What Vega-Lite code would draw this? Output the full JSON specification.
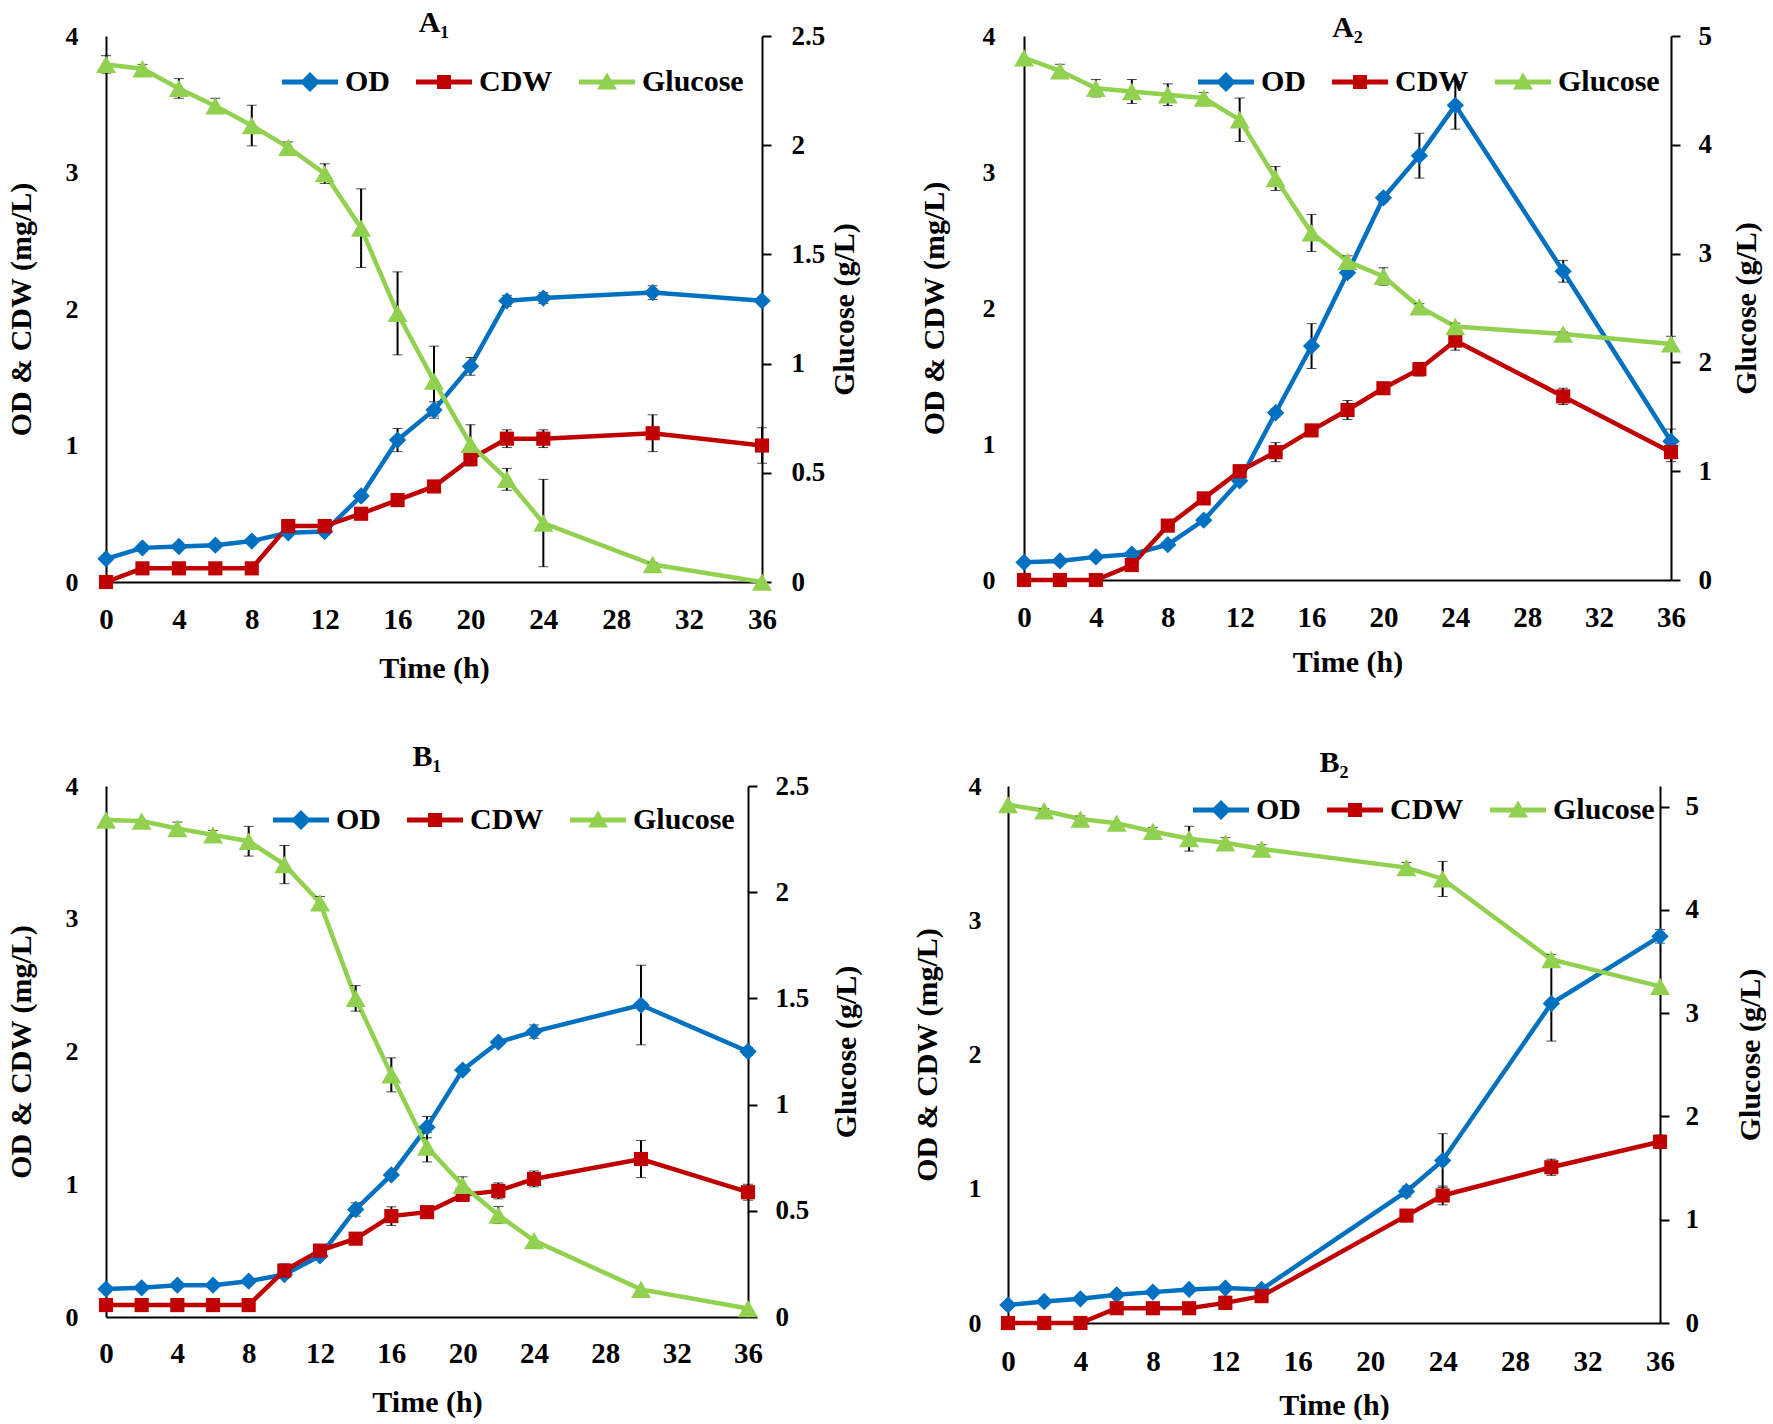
{
  "$schema": "https://vega.github.io/schema/vega-lite/v6.json",
  "padding": {"left": 6, "top": 8, "right": 0, "bottom": 0},
  "config": {
    "view": {"stroke": null},
    "font": "Liberation Serif",
    "axis": {"domainColor": "black", "domainWidth": 2, "grid": false, "labelFont": "Liberation Serif", "titleFont": "Liberation Serif", "labelFontWeight": "bold", "titleFontWeight": "bold", "labelColor": "black", "titleColor": "black", "tickColor": "black", "tickWidth": 2},
    "title": {"font": "Liberation Serif", "fontSize": 30, "fontWeight": "bold", "color": "black", "baseline": "alphabetic"},
    "legend": {"labelFont": "Liberation Serif", "labelFontSize": 30, "labelFontWeight": "bold", "labelColor": "black", "direction": "horizontal", "orient": "none", "labelOffset": 20, "columnPadding": 26, "symbolStrokeWidth": 0, "symbolSize": 400}
  },
  "datasets": {
    "A1": [
      {"t":0,"s":"OD","v":0.17,"e":0},{"t":2,"s":"OD","v":0.25,"e":0},{"t":4,"s":"OD","v":0.26,"e":0},{"t":6,"s":"OD","v":0.27,"e":0},{"t":8,"s":"OD","v":0.30,"e":0},{"t":10,"s":"OD","v":0.36,"e":0},{"t":12,"s":"OD","v":0.37,"e":0},{"t":14,"s":"OD","v":0.63,"e":0.02},{"t":16,"s":"OD","v":1.04,"e":0.085},{"t":18,"s":"OD","v":1.26,"e":0.06},{"t":20,"s":"OD","v":1.58,"e":0.065},{"t":22,"s":"OD","v":2.06,"e":0.04},{"t":24,"s":"OD","v":2.08,"e":0.04},{"t":30,"s":"OD","v":2.12,"e":0.05},{"t":36,"s":"OD","v":2.06,"e":0.02},
      {"t":0,"s":"CDW","v":0,"e":0},{"t":2,"s":"CDW","v":0.10,"e":0},{"t":4,"s":"CDW","v":0.10,"e":0},{"t":6,"s":"CDW","v":0.10,"e":0},{"t":8,"s":"CDW","v":0.10,"e":0},{"t":10,"s":"CDW","v":0.41,"e":0},{"t":12,"s":"CDW","v":0.41,"e":0},{"t":14,"s":"CDW","v":0.50,"e":0},{"t":16,"s":"CDW","v":0.60,"e":0},{"t":18,"s":"CDW","v":0.70,"e":0},{"t":20,"s":"CDW","v":0.90,"e":0.05},{"t":22,"s":"CDW","v":1.05,"e":0.065},{"t":24,"s":"CDW","v":1.05,"e":0.065},{"t":30,"s":"CDW","v":1.09,"e":0.135},{"t":36,"s":"CDW","v":1.00,"e":0.13},
      {"t":0,"s":"Glucose","v":2.37,"e":0.04},{"t":2,"s":"Glucose","v":2.35,"e":0.02},{"t":4,"s":"Glucose","v":2.26,"e":0.045},{"t":6,"s":"Glucose","v":2.18,"e":0.035},{"t":8,"s":"Glucose","v":2.09,"e":0.093},{"t":10,"s":"Glucose","v":1.99,"e":0.025},{"t":12,"s":"Glucose","v":1.87,"e":0.045},{"t":14,"s":"Glucose","v":1.62,"e":0.18},{"t":16,"s":"Glucose","v":1.23,"e":0.19},{"t":18,"s":"Glucose","v":0.92,"e":0.16},{"t":20,"s":"Glucose","v":0.63,"e":0.09},{"t":22,"s":"Glucose","v":0.47,"e":0.05},{"t":24,"s":"Glucose","v":0.27,"e":0.2},{"t":30,"s":"Glucose","v":0.08,"e":0.01},{"t":36,"s":"Glucose","v":0.0,"e":0}
    ],
    "A2": [
      {"t":0,"s":"OD","v":0.13,"e":0},{"t":2,"s":"OD","v":0.14,"e":0},{"t":4,"s":"OD","v":0.17,"e":0},{"t":6,"s":"OD","v":0.19,"e":0},{"t":8,"s":"OD","v":0.26,"e":0},{"t":10,"s":"OD","v":0.44,"e":0},{"t":12,"s":"OD","v":0.73,"e":0},{"t":14,"s":"OD","v":1.23,"e":0.03},{"t":16,"s":"OD","v":1.72,"e":0.165},{"t":18,"s":"OD","v":2.26,"e":0.03},{"t":20,"s":"OD","v":2.81,"e":0.03},{"t":22,"s":"OD","v":3.12,"e":0.165},{"t":24,"s":"OD","v":3.49,"e":0.175},{"t":30,"s":"OD","v":2.27,"e":0.08},{"t":36,"s":"OD","v":1.02,"e":0.09},
      {"t":0,"s":"CDW","v":0,"e":0},{"t":2,"s":"CDW","v":0,"e":0},{"t":4,"s":"CDW","v":0,"e":0},{"t":6,"s":"CDW","v":0.11,"e":0},{"t":8,"s":"CDW","v":0.40,"e":0},{"t":10,"s":"CDW","v":0.60,"e":0},{"t":12,"s":"CDW","v":0.80,"e":0},{"t":14,"s":"CDW","v":0.94,"e":0.07},{"t":16,"s":"CDW","v":1.10,"e":0.03},{"t":18,"s":"CDW","v":1.25,"e":0.07},{"t":20,"s":"CDW","v":1.41,"e":0.03},{"t":22,"s":"CDW","v":1.55,"e":0.05},{"t":24,"s":"CDW","v":1.76,"e":0.07},{"t":30,"s":"CDW","v":1.35,"e":0.06},{"t":36,"s":"CDW","v":0.94,"e":0.07},
      {"t":0,"s":"Glucose","v":4.80,"e":0},{"t":2,"s":"Glucose","v":4.68,"e":0.06},{"t":4,"s":"Glucose","v":4.52,"e":0.08},{"t":6,"s":"Glucose","v":4.49,"e":0.11},{"t":8,"s":"Glucose","v":4.46,"e":0.10},{"t":10,"s":"Glucose","v":4.43,"e":0.05},{"t":12,"s":"Glucose","v":4.23,"e":0.2},{"t":14,"s":"Glucose","v":3.69,"e":0.11},{"t":16,"s":"Glucose","v":3.19,"e":0.17},{"t":18,"s":"Glucose","v":2.93,"e":0.05},{"t":20,"s":"Glucose","v":2.79,"e":0.08},{"t":22,"s":"Glucose","v":2.51,"e":0.03},{"t":24,"s":"Glucose","v":2.33,"e":0.03},{"t":30,"s":"Glucose","v":2.26,"e":0.02},{"t":36,"s":"Glucose","v":2.17,"e":0.07}
    ],
    "B1": [
      {"t":0,"s":"OD","v":0.21,"e":0},{"t":2,"s":"OD","v":0.22,"e":0},{"t":4,"s":"OD","v":0.24,"e":0},{"t":6,"s":"OD","v":0.24,"e":0},{"t":8,"s":"OD","v":0.27,"e":0},{"t":10,"s":"OD","v":0.32,"e":0.03},{"t":12,"s":"OD","v":0.46,"e":0},{"t":14,"s":"OD","v":0.81,"e":0.05},{"t":16,"s":"OD","v":1.07,"e":0},{"t":18,"s":"OD","v":1.43,"e":0.08},{"t":20,"s":"OD","v":1.86,"e":0},{"t":22,"s":"OD","v":2.07,"e":0},{"t":24,"s":"OD","v":2.15,"e":0.05},{"t":30,"s":"OD","v":2.35,"e":0.3},{"t":36,"s":"OD","v":2.00,"e":0.03},
      {"t":0,"s":"CDW","v":0.09,"e":0},{"t":2,"s":"CDW","v":0.09,"e":0},{"t":4,"s":"CDW","v":0.09,"e":0},{"t":6,"s":"CDW","v":0.09,"e":0},{"t":8,"s":"CDW","v":0.09,"e":0},{"t":10,"s":"CDW","v":0.35,"e":0.05},{"t":12,"s":"CDW","v":0.50,"e":0},{"t":14,"s":"CDW","v":0.59,"e":0},{"t":16,"s":"CDW","v":0.76,"e":0.07},{"t":18,"s":"CDW","v":0.79,"e":0},{"t":20,"s":"CDW","v":0.92,"e":0.05},{"t":22,"s":"CDW","v":0.95,"e":0.06},{"t":24,"s":"CDW","v":1.04,"e":0.06},{"t":30,"s":"CDW","v":1.19,"e":0.14},{"t":36,"s":"CDW","v":0.94,"e":0.06},
      {"t":0,"s":"Glucose","v":2.34,"e":0},{"t":2,"s":"Glucose","v":2.335,"e":0},{"t":4,"s":"Glucose","v":2.30,"e":0.03},{"t":6,"s":"Glucose","v":2.27,"e":0.02},{"t":8,"s":"Glucose","v":2.24,"e":0.07},{"t":10,"s":"Glucose","v":2.13,"e":0.09},{"t":12,"s":"Glucose","v":1.95,"e":0.03},{"t":14,"s":"Glucose","v":1.50,"e":0.06},{"t":16,"s":"Glucose","v":1.14,"e":0.08},{"t":18,"s":"Glucose","v":0.80,"e":0.07},{"t":20,"s":"Glucose","v":0.62,"e":0.04},{"t":22,"s":"Glucose","v":0.48,"e":0.04},{"t":24,"s":"Glucose","v":0.36,"e":0},{"t":30,"s":"Glucose","v":0.13,"e":0},{"t":36,"s":"Glucose","v":0.04,"e":0}
    ],
    "B2": [
      {"t":0,"s":"OD","v":0.135,"e":0},{"t":2,"s":"OD","v":0.16,"e":0},{"t":4,"s":"OD","v":0.18,"e":0},{"t":6,"s":"OD","v":0.21,"e":0},{"t":8,"s":"OD","v":0.23,"e":0},{"t":10,"s":"OD","v":0.25,"e":0},{"t":12,"s":"OD","v":0.26,"e":0},{"t":14,"s":"OD","v":0.25,"e":0},{"t":22,"s":"OD","v":0.98,"e":0.04},{"t":24,"s":"OD","v":1.21,"e":0.2},{"t":30,"s":"OD","v":2.38,"e":0.28},{"t":36,"s":"OD","v":2.88,"e":0.05},
      {"t":0,"s":"CDW","v":0,"e":0},{"t":2,"s":"CDW","v":0,"e":0},{"t":4,"s":"CDW","v":0,"e":0},{"t":6,"s":"CDW","v":0.11,"e":0},{"t":8,"s":"CDW","v":0.11,"e":0},{"t":10,"s":"CDW","v":0.11,"e":0},{"t":12,"s":"CDW","v":0.15,"e":0.05},{"t":14,"s":"CDW","v":0.20,"e":0},{"t":22,"s":"CDW","v":0.80,"e":0},{"t":24,"s":"CDW","v":0.95,"e":0.07},{"t":30,"s":"CDW","v":1.16,"e":0.06},{"t":36,"s":"CDW","v":1.35,"e":0.05},
      {"t":0,"s":"Glucose","v":5.02,"e":0},{"t":2,"s":"Glucose","v":4.96,"e":0.02},{"t":4,"s":"Glucose","v":4.88,"e":0.03},{"t":6,"s":"Glucose","v":4.84,"e":0},{"t":8,"s":"Glucose","v":4.76,"e":0.04},{"t":10,"s":"Glucose","v":4.69,"e":0.12},{"t":12,"s":"Glucose","v":4.65,"e":0.05},{"t":14,"s":"Glucose","v":4.59,"e":0.04},{"t":22,"s":"Glucose","v":4.41,"e":0.05},{"t":24,"s":"Glucose","v":4.30,"e":0.17},{"t":30,"s":"Glucose","v":3.52,"e":0.05},{"t":36,"s":"Glucose","v":3.26,"e":0}
    ],
    "legendrows": [
      {"t":0,"s":"OD","v":-1},{"t":0,"s":"CDW","v":-1},{"t":0,"s":"Glucose","v":-1}
    ]
  },
  "resolve": {"scale": {"color": "independent", "shape": "independent"}, "legend": {"color": "independent", "shape": "independent"}},
  "spacing": 59,
  "vconcat": [
    {
      "hconcat": [
        {
          "title": {"text": "A₁", "offset": -16},
          "width": 656, "height": 546,
          "data": {"name": "A1"},
          "layer": [
            {"transform": [{"filter": "datum.s == 'OD'"}], "mark": {"type": "line", "color": "#0070C0", "strokeWidth": 4.5},
             "encoding": {"x": {"field": "t", "type": "quantitative", "scale": {"domain": [0, 36], "nice": false}, "axis": {"values": [0,4,8,12,16,20,24,28,32,36], "title": "Time (h)", "ticks": false, "labelFontSize": 29, "labelPadding": 23, "titleFontSize": 30, "titlePadding": 19, "labelAngle": 0, "labelFlush": false}},
                          "y": {"field": "v", "type": "quantitative", "scale": {"domain": [0, 4], "nice": false}, "axis": {"orient": "left", "values": [0,1,2,3,4], "title": "OD & CDW (mg/L)", "ticks": false, "labelFontSize": 26, "labelPadding": 28, "titleFontSize": 30, "titlePadding": 29, "labelFlush": false}}}},
            {"transform": [{"filter": "datum.s == 'CDW'"}], "mark": {"type": "line", "color": "#C00000", "strokeWidth": 4.5},
             "encoding": {"x": {"field": "t", "type": "quantitative"}, "y": {"field": "v", "type": "quantitative", "scale": {"domain": [0, 4], "nice": false}, "axis": null}}},
            {"transform": [{"filter": "datum.s == 'Glucose'"}], "mark": {"type": "line", "color": "#92D050", "strokeWidth": 4.5},
             "encoding": {"x": {"field": "t", "type": "quantitative"},
                          "y": {"field": "v", "type": "quantitative", "scale": {"domain": [0, 2.5], "nice": false}, "axis": {"orient": "right", "values": [0,0.5,1,1.5,2,2.5], "format": "~g", "title": "Glucose (g/L)", "tickSize": 9, "labelPadding": 20, "labelFontSize": 27, "titleFontSize": 30, "titlePadding": 5, "titleAngle": 270, "titleBaseline": "top", "labelFlush": false}}}},
            {"transform": [{"filter": "datum.s != 'Glucose' && datum.e > 0"}], "mark": {"type": "errorbar", "ticks": {"size": 10, "color": "black", "strokeWidth": 2}, "rule": {"color": "black", "strokeWidth": 2}},
             "encoding": {"x": {"field": "t", "type": "quantitative"}, "y": {"field": "v", "type": "quantitative", "scale": {"domain": [0, 4], "nice": false}, "axis": null}, "yError": {"field": "e"}}},
            {"transform": [{"filter": "datum.s == 'Glucose' && datum.e > 0"}], "mark": {"type": "errorbar", "ticks": {"size": 10, "color": "black", "strokeWidth": 2}, "rule": {"color": "black", "strokeWidth": 2}},
             "encoding": {"x": {"field": "t", "type": "quantitative"}, "y": {"field": "v", "type": "quantitative", "scale": {"domain": [0, 2.5], "nice": false}, "axis": null}, "yError": {"field": "e"}}},
            {"transform": [{"filter": "datum.s == 'OD'"}], "mark": {"type": "point", "shape": "diamond", "filled": true, "size": 300, "color": "#0070C0", "opacity": 1},
             "encoding": {"x": {"field": "t", "type": "quantitative"}, "y": {"field": "v", "type": "quantitative", "scale": {"domain": [0, 4], "nice": false}, "axis": null}}},
            {"transform": [{"filter": "datum.s == 'CDW'"}], "mark": {"type": "point", "shape": "square", "filled": true, "size": 200, "color": "#C00000", "opacity": 1},
             "encoding": {"x": {"field": "t", "type": "quantitative"}, "y": {"field": "v", "type": "quantitative", "scale": {"domain": [0, 4], "nice": false}, "axis": null}}},
            {"transform": [{"filter": "datum.s == 'Glucose'"}], "mark": {"type": "point", "shape": "triangle-up", "filled": true, "size": 400, "color": "#92D050", "opacity": 1},
             "encoding": {"x": {"field": "t", "type": "quantitative"}, "y": {"field": "v", "type": "quantitative", "scale": {"domain": [0, 2.5], "nice": false}, "axis": null}}},
            {"data": {"name": "legendrows"}, "mark": {"type": "point", "filled": true, "size": 400, "opacity": 1, "clip": true},
             "encoding": {
               "x": {"field": "t", "type": "quantitative"},
               "y": {"field": "v", "type": "quantitative", "scale": {"domain": [0, 4], "nice": false}, "axis": null},
               "color": {"field": "s", "type": "nominal", "scale": {"domain": ["OD", "CDW", "Glucose"], "range": ["#0070C0", "#C00000", "#92D050"]}, "legend": {"title": null, "legendX": 189, "legendY": 31}},
               "shape": {"field": "s", "type": "nominal", "scale": {"domain": ["OD", "CDW", "Glucose"], "range": ["M-2.8,-0.25H2.8V0.25H-2.8Z M0,-1L1,0L0,1L-1,0Z", "M-2.8,-0.25H2.8V0.25H-2.8Z M-0.7,-0.7H0.7V0.7H-0.7Z", "M-2.8,-0.25H2.8V0.25H-2.8Z M0,-0.95L1,0.75L-1,0.75Z"]}, "legend": {"title": null, "legendX": 189, "legendY": 31}}
             }}
          ],
          "resolve": {"scale": {"y": "independent"}}
        },
        {
          "title": {"text": "A₂", "offset": -21},
          "width": 647, "height": 544,
          "data": {"name": "A2"},
          "layer": [
            {"transform": [{"filter": "datum.s == 'OD'"}], "mark": {"type": "line", "color": "#0070C0", "strokeWidth": 4.5},
             "encoding": {"x": {"field": "t", "type": "quantitative", "scale": {"domain": [0, 36], "nice": false}, "axis": {"values": [0,4,8,12,16,20,24,28,32,36], "title": "Time (h)", "ticks": false, "labelFontSize": 29, "labelPadding": 23, "titleFontSize": 30, "titlePadding": 15, "labelAngle": 0, "labelFlush": false}},
                          "y": {"field": "v", "type": "quantitative", "scale": {"domain": [0, 4], "nice": false}, "axis": {"orient": "left", "values": [0,1,2,3,4], "title": "OD & CDW (mg/L)", "ticks": false, "labelFontSize": 26, "labelPadding": 29, "titleFontSize": 30, "titlePadding": 33, "labelFlush": false}}}},
            {"transform": [{"filter": "datum.s == 'CDW'"}], "mark": {"type": "line", "color": "#C00000", "strokeWidth": 4.5},
             "encoding": {"x": {"field": "t", "type": "quantitative"}, "y": {"field": "v", "type": "quantitative", "scale": {"domain": [0, 4], "nice": false}, "axis": null}}},
            {"transform": [{"filter": "datum.s == 'Glucose'"}], "mark": {"type": "line", "color": "#92D050", "strokeWidth": 4.5},
             "encoding": {"x": {"field": "t", "type": "quantitative"},
                          "y": {"field": "v", "type": "quantitative", "scale": {"domain": [0, 5], "nice": false}, "axis": {"orient": "right", "values": [0,1,2,3,4,5], "format": "~g", "title": "Glucose (g/L)", "tickSize": 9, "labelPadding": 18, "labelFontSize": 27, "titleFontSize": 30, "titlePadding": 20, "titleAngle": 270, "titleBaseline": "top", "labelFlush": false}}}},
            {"transform": [{"filter": "datum.s != 'Glucose' && datum.e > 0"}], "mark": {"type": "errorbar", "ticks": {"size": 10, "color": "black", "strokeWidth": 2}, "rule": {"color": "black", "strokeWidth": 2}},
             "encoding": {"x": {"field": "t", "type": "quantitative"}, "y": {"field": "v", "type": "quantitative", "scale": {"domain": [0, 4], "nice": false}, "axis": null}, "yError": {"field": "e"}}},
            {"transform": [{"filter": "datum.s == 'Glucose' && datum.e > 0"}], "mark": {"type": "errorbar", "ticks": {"size": 10, "color": "black", "strokeWidth": 2}, "rule": {"color": "black", "strokeWidth": 2}},
             "encoding": {"x": {"field": "t", "type": "quantitative"}, "y": {"field": "v", "type": "quantitative", "scale": {"domain": [0, 5], "nice": false}, "axis": null}, "yError": {"field": "e"}}},
            {"transform": [{"filter": "datum.s == 'OD'"}], "mark": {"type": "point", "shape": "diamond", "filled": true, "size": 300, "color": "#0070C0", "opacity": 1},
             "encoding": {"x": {"field": "t", "type": "quantitative"}, "y": {"field": "v", "type": "quantitative", "scale": {"domain": [0, 4], "nice": false}, "axis": null}}},
            {"transform": [{"filter": "datum.s == 'CDW'"}], "mark": {"type": "point", "shape": "square", "filled": true, "size": 200, "color": "#C00000", "opacity": 1},
             "encoding": {"x": {"field": "t", "type": "quantitative"}, "y": {"field": "v", "type": "quantitative", "scale": {"domain": [0, 4], "nice": false}, "axis": null}}},
            {"transform": [{"filter": "datum.s == 'Glucose'"}], "mark": {"type": "point", "shape": "triangle-up", "filled": true, "size": 400, "color": "#92D050", "opacity": 1},
             "encoding": {"x": {"field": "t", "type": "quantitative"}, "y": {"field": "v", "type": "quantitative", "scale": {"domain": [0, 5], "nice": false}, "axis": null}}},
            {"data": {"name": "legendrows"}, "mark": {"type": "point", "filled": true, "size": 400, "opacity": 1, "clip": true},
             "encoding": {
               "x": {"field": "t", "type": "quantitative"},
               "y": {"field": "v", "type": "quantitative", "scale": {"domain": [0, 4], "nice": false}, "axis": null},
               "color": {"field": "s", "type": "nominal", "scale": {"domain": ["OD", "CDW", "Glucose"], "range": ["#0070C0", "#C00000", "#92D050"]}, "legend": {"title": null, "legendX": 187, "legendY": 31}},
               "shape": {"field": "s", "type": "nominal", "scale": {"domain": ["OD", "CDW", "Glucose"], "range": ["M-2.8,-0.25H2.8V0.25H-2.8Z M0,-1L1,0L0,1L-1,0Z", "M-2.8,-0.25H2.8V0.25H-2.8Z M-0.7,-0.7H0.7V0.7H-0.7Z", "M-2.8,-0.25H2.8V0.25H-2.8Z M0,-0.95L1,0.75L-1,0.75Z"]}, "legend": {"title": null, "legendX": 187, "legendY": 31}}
             }}
          ],
          "resolve": {"scale": {"y": "independent"}}
        }
      ],
      "spacing": 262,
      "bounds": "flush",
      "resolve": {"scale": {"color": "independent", "shape": "independent"}, "legend": {"color": "independent", "shape": "independent"}}
    },
    {
      "hconcat": [
        {
          "title": {"text": "B₁", "offset": 0},
          "width": 642, "height": 531,
          "data": {"name": "B1"},
          "layer": [
            {"transform": [{"filter": "datum.s == 'OD'"}], "mark": {"type": "line", "color": "#0070C0", "strokeWidth": 4.5},
             "encoding": {"x": {"field": "t", "type": "quantitative", "scale": {"domain": [0, 36], "nice": false}, "axis": {"values": [0,4,8,12,16,20,24,28,32,36], "title": "Time (h)", "ticks": false, "labelFontSize": 29, "labelPadding": 22, "titleFontSize": 30, "titlePadding": 19, "labelAngle": 0, "labelFlush": false}},
                          "y": {"field": "v", "type": "quantitative", "scale": {"domain": [0, 4], "nice": false}, "axis": {"orient": "left", "values": [0,1,2,3,4], "title": "OD & CDW (mg/L)", "ticks": false, "labelFontSize": 26, "labelPadding": 28, "titleFontSize": 30, "titlePadding": 29, "labelFlush": false}}}},
            {"transform": [{"filter": "datum.s == 'CDW'"}], "mark": {"type": "line", "color": "#C00000", "strokeWidth": 4.5},
             "encoding": {"x": {"field": "t", "type": "quantitative"}, "y": {"field": "v", "type": "quantitative", "scale": {"domain": [0, 4], "nice": false}, "axis": null}}},
            {"transform": [{"filter": "datum.s == 'Glucose'"}], "mark": {"type": "line", "color": "#92D050", "strokeWidth": 4.5},
             "encoding": {"x": {"field": "t", "type": "quantitative"},
                          "y": {"field": "v", "type": "quantitative", "scale": {"domain": [0, 2.5], "nice": false}, "axis": {"orient": "right", "values": [0,0.5,1,1.5,2,2.5], "format": "~g", "title": "Glucose (g/L)", "tickSize": 9, "labelPadding": 18, "labelFontSize": 27, "titleFontSize": 30, "titlePadding": 23, "titleAngle": 270, "titleBaseline": "top", "labelFlush": false}}}},
            {"transform": [{"filter": "datum.s != 'Glucose' && datum.e > 0"}], "mark": {"type": "errorbar", "ticks": {"size": 10, "color": "black", "strokeWidth": 2}, "rule": {"color": "black", "strokeWidth": 2}},
             "encoding": {"x": {"field": "t", "type": "quantitative"}, "y": {"field": "v", "type": "quantitative", "scale": {"domain": [0, 4], "nice": false}, "axis": null}, "yError": {"field": "e"}}},
            {"transform": [{"filter": "datum.s == 'Glucose' && datum.e > 0"}], "mark": {"type": "errorbar", "ticks": {"size": 10, "color": "black", "strokeWidth": 2}, "rule": {"color": "black", "strokeWidth": 2}},
             "encoding": {"x": {"field": "t", "type": "quantitative"}, "y": {"field": "v", "type": "quantitative", "scale": {"domain": [0, 2.5], "nice": false}, "axis": null}, "yError": {"field": "e"}}},
            {"transform": [{"filter": "datum.s == 'OD'"}], "mark": {"type": "point", "shape": "diamond", "filled": true, "size": 300, "color": "#0070C0", "opacity": 1},
             "encoding": {"x": {"field": "t", "type": "quantitative"}, "y": {"field": "v", "type": "quantitative", "scale": {"domain": [0, 4], "nice": false}, "axis": null}}},
            {"transform": [{"filter": "datum.s == 'CDW'"}], "mark": {"type": "point", "shape": "square", "filled": true, "size": 200, "color": "#C00000", "opacity": 1},
             "encoding": {"x": {"field": "t", "type": "quantitative"}, "y": {"field": "v", "type": "quantitative", "scale": {"domain": [0, 4], "nice": false}, "axis": null}}},
            {"transform": [{"filter": "datum.s == 'Glucose'"}], "mark": {"type": "point", "shape": "triangle-up", "filled": true, "size": 400, "color": "#92D050", "opacity": 1},
             "encoding": {"x": {"field": "t", "type": "quantitative"}, "y": {"field": "v", "type": "quantitative", "scale": {"domain": [0, 2.5], "nice": false}, "axis": null}}},
            {"data": {"name": "legendrows"}, "mark": {"type": "point", "filled": true, "size": 400, "opacity": 1, "clip": true},
             "encoding": {
               "x": {"field": "t", "type": "quantitative"},
               "y": {"field": "v", "type": "quantitative", "scale": {"domain": [0, 4], "nice": false}, "axis": null},
               "color": {"field": "s", "type": "nominal", "scale": {"domain": ["OD", "CDW", "Glucose"], "range": ["#0070C0", "#C00000", "#92D050"]}, "legend": {"title": null, "legendX": 180, "legendY": 19}},
               "shape": {"field": "s", "type": "nominal", "scale": {"domain": ["OD", "CDW", "Glucose"], "range": ["M-2.8,-0.25H2.8V0.25H-2.8Z M0,-1L1,0L0,1L-1,0Z", "M-2.8,-0.25H2.8V0.25H-2.8Z M-0.7,-0.7H0.7V0.7H-0.7Z", "M-2.8,-0.25H2.8V0.25H-2.8Z M0,-0.95L1,0.75L-1,0.75Z"]}, "legend": {"title": null, "legendX": 180, "legendY": 19}}
             }}
          ],
          "resolve": {"scale": {"y": "independent"}}
        },
        {
          "title": {"text": "B₂", "offset": -5},
          "width": 652, "height": 537,
          "data": {"name": "B2"},
          "layer": [
            {"transform": [{"filter": "datum.s == 'OD'"}], "mark": {"type": "line", "color": "#0070C0", "strokeWidth": 4.5},
             "encoding": {"x": {"field": "t", "type": "quantitative", "scale": {"domain": [0, 36], "nice": false}, "axis": {"values": [0,4,8,12,16,20,24,28,32,36], "title": "Time (h)", "ticks": false, "labelFontSize": 29, "labelPadding": 24, "titleFontSize": 30, "titlePadding": 14, "labelAngle": 0, "labelFlush": false}},
                          "y": {"field": "v", "type": "quantitative", "scale": {"domain": [0, 4], "nice": false}, "axis": {"orient": "left", "values": [0,1,2,3,4], "title": "OD & CDW (mg/L)", "ticks": false, "labelFontSize": 26, "labelPadding": 27, "titleFontSize": 30, "titlePadding": 26, "labelFlush": false}}}},
            {"transform": [{"filter": "datum.s == 'CDW'"}], "mark": {"type": "line", "color": "#C00000", "strokeWidth": 4.5},
             "encoding": {"x": {"field": "t", "type": "quantitative"}, "y": {"field": "v", "type": "quantitative", "scale": {"domain": [0, 4], "nice": false}, "axis": null}}},
            {"transform": [{"filter": "datum.s == 'Glucose'"}], "mark": {"type": "line", "color": "#92D050", "strokeWidth": 4.5},
             "encoding": {"x": {"field": "t", "type": "quantitative"},
                          "y": {"field": "v", "type": "quantitative", "scale": {"domain": [0, 5.2], "nice": false}, "axis": {"orient": "right", "values": [0,1,2,3,4,5], "format": "~g", "title": "Glucose (g/L)", "tickSize": 9, "labelPadding": 16, "labelFontSize": 27, "titleFontSize": 30, "titlePadding": 37, "titleAngle": 270, "titleBaseline": "top", "labelFlush": false}}}},
            {"transform": [{"filter": "datum.s != 'Glucose' && datum.e > 0"}], "mark": {"type": "errorbar", "ticks": {"size": 10, "color": "black", "strokeWidth": 2}, "rule": {"color": "black", "strokeWidth": 2}},
             "encoding": {"x": {"field": "t", "type": "quantitative"}, "y": {"field": "v", "type": "quantitative", "scale": {"domain": [0, 4], "nice": false}, "axis": null}, "yError": {"field": "e"}}},
            {"transform": [{"filter": "datum.s == 'Glucose' && datum.e > 0"}], "mark": {"type": "errorbar", "ticks": {"size": 10, "color": "black", "strokeWidth": 2}, "rule": {"color": "black", "strokeWidth": 2}},
             "encoding": {"x": {"field": "t", "type": "quantitative"}, "y": {"field": "v", "type": "quantitative", "scale": {"domain": [0, 5.2], "nice": false}, "axis": null}, "yError": {"field": "e"}}},
            {"transform": [{"filter": "datum.s == 'OD'"}], "mark": {"type": "point", "shape": "diamond", "filled": true, "size": 300, "color": "#0070C0", "opacity": 1},
             "encoding": {"x": {"field": "t", "type": "quantitative"}, "y": {"field": "v", "type": "quantitative", "scale": {"domain": [0, 4], "nice": false}, "axis": null}}},
            {"transform": [{"filter": "datum.s == 'CDW'"}], "mark": {"type": "point", "shape": "square", "filled": true, "size": 200, "color": "#C00000", "opacity": 1},
             "encoding": {"x": {"field": "t", "type": "quantitative"}, "y": {"field": "v", "type": "quantitative", "scale": {"domain": [0, 4], "nice": false}, "axis": null}}},
            {"transform": [{"filter": "datum.s == 'Glucose'"}], "mark": {"type": "point", "shape": "triangle-up", "filled": true, "size": 400, "color": "#92D050", "opacity": 1},
             "encoding": {"x": {"field": "t", "type": "quantitative"}, "y": {"field": "v", "type": "quantitative", "scale": {"domain": [0, 5.2], "nice": false}, "axis": null}}},
            {"data": {"name": "legendrows"}, "mark": {"type": "point", "filled": true, "size": 400, "opacity": 1, "clip": true},
             "encoding": {
               "x": {"field": "t", "type": "quantitative"},
               "y": {"field": "v", "type": "quantitative", "scale": {"domain": [0, 4], "nice": false}, "axis": null},
               "color": {"field": "s", "type": "nominal", "scale": {"domain": ["OD", "CDW", "Glucose"], "range": ["#0070C0", "#C00000", "#92D050"]}, "legend": {"title": null, "legendX": 198, "legendY": 9}},
               "shape": {"field": "s", "type": "nominal", "scale": {"domain": ["OD", "CDW", "Glucose"], "range": ["M-2.8,-0.25H2.8V0.25H-2.8Z M0,-1L1,0L0,1L-1,0Z", "M-2.8,-0.25H2.8V0.25H-2.8Z M-0.7,-0.7H0.7V0.7H-0.7Z", "M-2.8,-0.25H2.8V0.25H-2.8Z M0,-0.95L1,0.75L-1,0.75Z"]}, "legend": {"title": null, "legendX": 198, "legendY": 9}}
             }}
          ],
          "resolve": {"scale": {"y": "independent"}}
        }
      ],
      "spacing": 260,
      "bounds": "flush",
      "resolve": {"scale": {"color": "independent", "shape": "independent"}, "legend": {"color": "independent", "shape": "independent"}}
    }
  ]
}
